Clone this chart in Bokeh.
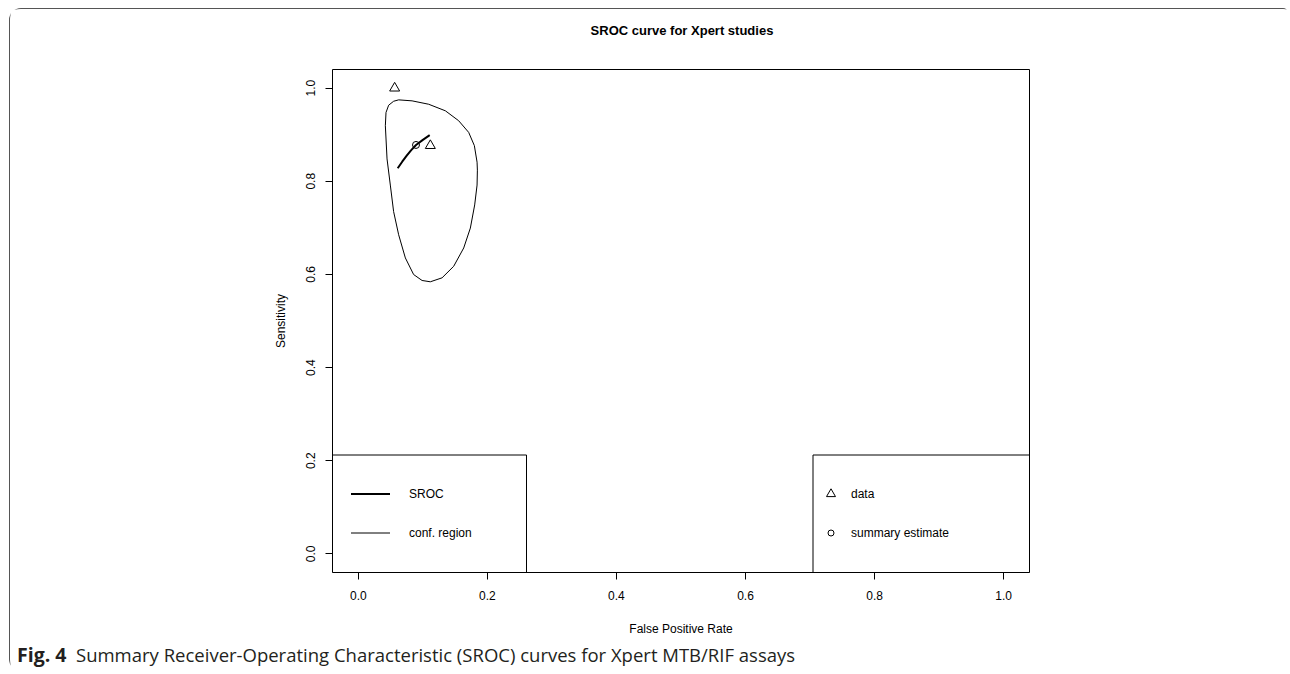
from bokeh.plotting import figure
from bokeh.layouts import column
from bokeh.models import Range1d, FixedTicker, Label, BoxAnnotation
from bokeh.core.properties import value
from bokeh.embed import file_html
from bokeh.resources import INLINE

# ---------------- data ----------------
study_fpr = [0.0563, 0.1116]
study_sens = [1.0, 0.8766]

summary_fpr = [0.0894]
summary_sens = [0.878]

sroc_fpr = [0.061, 0.068, 0.075, 0.082, 0.0894, 0.100, 0.1106]
sroc_sens = [0.828, 0.842, 0.855, 0.867, 0.878, 0.889, 0.899]

region_fpr = [0.0625, 0.0547, 0.0470, 0.0429, 0.0419, 0.0445, 0.0496, 0.0547, 0.0625,
              0.0729, 0.0857, 0.0988, 0.1116, 0.1298, 0.1478, 0.1633, 0.1736, 0.1803,
              0.1840, 0.1845, 0.1840, 0.1798, 0.1710, 0.1555, 0.1349, 0.1090, 0.0833,
              0.0625]
region_sens = [0.9748, 0.9718, 0.9633, 0.9477, 0.9193, 0.8480, 0.7919, 0.7349, 0.6852,
               0.6354, 0.5998, 0.5870, 0.5842, 0.5927, 0.6175, 0.6568, 0.6995, 0.7492,
               0.7919, 0.8239, 0.8410, 0.8766, 0.9050, 0.9300, 0.9513, 0.9654, 0.9727,
               0.9748]

x_ticks = [0.0, 0.2, 0.4, 0.6, 0.8, 1.0]
y_ticks = [0.0, 0.2, 0.4, 0.6, 0.8, 1.0]
tick_labels = ["0.0", "0.2", "0.4", "0.6", "0.8", "1.0"]

title_text = "SROC curve for Xpert studies"
x_label = "False Positive Rate"
y_label = "Sensitivity"
legend_left = ["SROC", "conf. region"]
legend_right = ["data", "summary estimate"]
caption_bold = "Fig. 4"
caption_text = "Summary Receiver-Operating Characteristic (SROC) curves for Xpert MTB/RIF assays"

# ---------------- layout helpers ----------------
OX, OY = 10.5, 9.5            # page position of the figure content
W = 1277
TOP_H = 40
ML, MT = 322, 20
FW, FH = 697, 503
MR = W - ML - FW
MAIN_H = 592
MB = MAIN_H - MT - FH
CAP_H = 30
X0, X1, Y0, Y1 = -0.04, 1.04, -0.04, 1.04
MAIN_Y = OY + TOP_H           # page y of the main figure top


def dx(px):  # page x pixel -> data x
    return X0 + (px - OX - ML) / FW * (X1 - X0)


def dy(py):  # page y pixel -> data y
    return Y1 - (py - MAIN_Y - MT) / FH * (Y1 - Y0)


FONT = "Liberation Sans"


def strip(height):
    s = figure(width=W, height=height, x_range=Range1d(0, W), y_range=Range1d(height, 0),
               output_backend="svg", toolbar_location=None,
               min_border_left=0, min_border_right=0, min_border_top=0, min_border_bottom=0)
    s.frame_align = False
    s.axis.visible = False
    s.xgrid.visible = False
    s.ygrid.visible = False
    s.outline_line_color = None
    s.background_fill_color = "white"
    s.border_fill_color = "white"
    return s


# title strip
top = strip(TOP_H)
top.text(x=[682 - OX], y=[30.5 - OY], text=[title_text], text_font=value(FONT),
         text_font_size="13px", text_font_style="bold", text_align="center",
         text_baseline="middle", text_color="black")

p = figure(width=W, height=MAIN_H, x_range=Range1d(X0, X1), y_range=Range1d(Y0, Y1),
           output_backend="svg", toolbar_location=None,
           min_border_left=ML, min_border_right=MR, min_border_top=MT, min_border_bottom=MB)
p.frame_align = False
p.background_fill_color = "white"
p.border_fill_color = "white"
p.outline_line_color = "black"
p.outline_line_width = 1
p.xgrid.visible = False
p.ygrid.visible = False

for ax, ticks in ((p.xaxis, x_ticks), (p.yaxis, y_ticks)):
    ax.ticker = FixedTicker(ticks=ticks)
    ax.major_label_overrides = {t: l for t, l in zip(ticks, tick_labels)}
    ax.axis_line_color = None
    ax.major_tick_out = 7
    ax.major_tick_in = 0
    ax.major_tick_line_color = "black"
    ax.minor_tick_line_color = None
    ax.major_label_text_font = FONT
    ax.major_label_text_font_size = "12px"
    ax.major_label_text_color = "black"
    ax.axis_label_text_font = FONT
    ax.axis_label_text_font_size = "12px"
    ax.axis_label_text_font_style = "normal"
    ax.axis_label_text_color = "black"

p.xaxis.axis_label = x_label
p.xaxis.major_label_standoff = 11
p.xaxis.axis_label_standoff = 19
p.yaxis.axis_label = y_label
p.yaxis.major_label_orientation = "vertical"
p.yaxis.major_label_standoff = 10
p.yaxis.axis_label_standoff = 16

# confidence region, SROC curve, points
p.line(region_fpr, region_sens, line_color="black", line_width=1)
p.line(sroc_fpr, sroc_sens, line_color="black", line_width=2)
p.scatter(study_fpr, study_sens, marker="triangle", size=10, fill_color=None,
          line_color="black", line_width=1)
p.scatter(summary_fpr, summary_sens, marker="circle", size=7, fill_color=None,
          line_color="black", line_width=1)

# legend boxes
p.add_layout(BoxAnnotation(right=dx(526.5), top=dy(455), fill_alpha=0, line_color="black",
                           line_width=1, line_alpha=1))
p.add_layout(BoxAnnotation(left=dx(813), top=dy(455), fill_alpha=0, line_color="black",
                           line_width=1, line_alpha=1))

row_y = [dy(494), dy(533)]
p.line([dx(351), dx(390)], [row_y[0], row_y[0]], line_color="black", line_width=2)
p.line([dx(351), dx(390)], [row_y[1], row_y[1]], line_color="black", line_width=1)
for txt, yy in zip(legend_left, row_y):
    p.add_layout(Label(x=dx(409), y=yy, text=txt, text_font=FONT, text_font_size="12px",
                       text_baseline="middle", text_align="left", text_color="black"))
p.scatter([dx(831)], [row_y[0]], marker="triangle", size=9, fill_color=None, line_color="black")
p.scatter([dx(831)], [row_y[1]], marker="circle", size=6, fill_color=None, line_color="black")
for txt, yy in zip(legend_right, row_y):
    p.add_layout(Label(x=dx(851), y=yy, text=txt, text_font=FONT, text_font_size="12px",
                       text_baseline="middle", text_align="left", text_color="black"))

# caption strip
cap = strip(CAP_H)
cap_y = 654 - MAIN_Y - MAIN_H
cap.text(x=[17 - OX], y=[cap_y], text=[caption_bold], text_font=value("Open Sans"),
         text_font_size="19.5px", text_font_style="bold", text_align="left",
         text_baseline="middle", text_color="#231f20")
cap.text(x=[76 - OX], y=[cap_y], text=[caption_text], text_font=value("Open Sans"),
         text_font_size="18.5px", text_align="left", text_baseline="middle",
         text_color="#231f20")

layout = column(top, p, cap, spacing=0)
layout.styles = {"margin-left": "9px", "margin-top": "8px",
                 "border-top": "1.5px solid #555", "border-left": "1.5px solid #555",
                 "border-radius": "12px 4px 0 12px"}

open("out.html", "w").write(file_html(layout, INLINE))
